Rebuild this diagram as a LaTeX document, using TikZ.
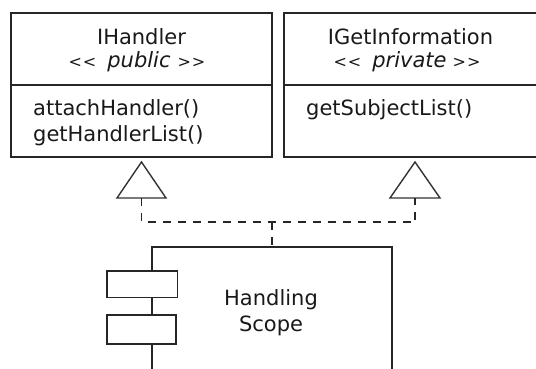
\documentclass[tikz,border=0pt]{standalone}
\usepackage{fontspec}
\setmainfont{DejaVu Sans}
\newcommand\umlfont{\fontsize{21}{26}\selectfont}
\newcommand\guil[1]{{\fontsize{16}{16}\selectfont #1}}
\begin{document}
\begin{tikzpicture}[x=1pt,y=-1pt,
  frame/.style={line width=1.6pt, draw=black!85},
  tri/.style={line width=1.4pt, draw=black!80, fill=white, line join=miter},
  realize/.style={line width=1.6pt, draw=black!85, dash pattern=on 8pt off 7pt},
  txt/.style={font=\umlfont, text=black!90, inner sep=0pt},
  port/.style={frame, fill=white, inner sep=0pt}]
\clip (0,0) rectangle (536,369);
\fill[white] (0,0) rectangle (536,369);

% interface IHandler
\node[frame, minimum width=261pt, minimum height=144pt, inner sep=0pt] (ih) at (141.5,85) {};
\draw[frame] (ih.west) -- (ih.east);
\node[txt, anchor=base] (ihname) at (141.5,45) {IHandler};
\node[txt, anchor=base] (ihst) at (137,68) {\guil{<\kern1pt<}\hspace{11pt}\textit{public}\hspace{7pt}\guil{>\kern1pt>}};
\node[txt, anchor=base west] (ihm1) at (33,115) {attachHandler()};
\node[txt, anchor=base west] (ihm2) at (33,141.5) {getHandlerList()};

% interface IGetInformation
\node[frame, minimum width=261pt, minimum height=144pt, inner sep=0pt] (gi) at (414.5,85) {};
\draw[frame] (gi.west) -- (gi.east);
\node[txt, anchor=base] (giname) at (410.5,45) {IGetInformation};
\node[txt, anchor=base] (gist) at (407,68) {\guil{<\kern1pt<}\hspace{11pt}\textit{private}\hspace{6pt}\guil{>\kern1pt>}};
\node[txt, anchor=base west] (gim1) at (306,116) {getSubjectList()};

% realization triangles
\draw[tri] (141.5,162) -- (166,198) -- (117,198) -- cycle;
\draw[tri] (415,162) -- (440,198) -- (390,198) -- cycle;
\coordinate (tl) at (141.5,198);
\coordinate (tr) at (415,198);
\coordinate (jl) at (141.5,222);
\coordinate (jr) at (415,222);
\coordinate (jm) at (272,222);

% component
\node[frame, minimum width=240.3pt, minimum height=200pt, inner sep=0pt] (scope) at (271.85,346.7) {};
\node[txt, anchor=base] (sc1) at (271,305) {Handling};
\node[txt, anchor=base] (sc2) at (271,331.5) {Scope};
\node[port, minimum width=70.6pt, minimum height=26.3pt] (p1) at (142,284.2) {};
\node[port, minimum width=69pt, minimum height=29pt] (p2) at (141.2,329.5) {};

% dashed realization links
\draw[realize] (tl) -- (jl) -- (jr) -- (tr);
\draw[realize] (jm) -- (jm |- scope.north);
\end{tikzpicture}
\end{document}
